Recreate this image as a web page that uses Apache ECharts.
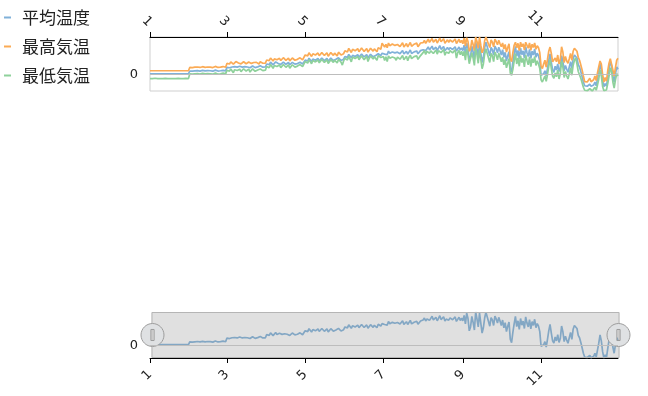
<!DOCTYPE html>
<html><head><meta charset="utf-8">
<script src="https://cdn.jsdelivr.net/npm/echarts@6/dist/echarts.min.js"></script>
<style>html,body{margin:0;padding:0;background:#fff}#c{width:648px;height:396px}</style>
</head><body><div id="c"></div>
<script>
const seriesNames = ['平均温度', '最高気温', '最低気温'];
// day-of-year positions (leap year) of the month ticks and their labels
const tickDays = [0, 60, 121, 182, 244, 305];
const tickLabels = ['1', '3', '5', '7', '9', '11'];
const lastDay = 365;

// daily values, one row per month block (Jan..Dec)
const avgTemp = [
0.5,0.5,0.5,0.5,0.5,0.5,0.5,0.5,0.5,0.5, 0.5,0.5,0.5,0.5,0.5,0.5,0.5,0.5,0.5,0.5, 0.5,0.5,0.5,0.5,0.5,0.5,0.5,0.5,0.5,0.5, 0.5,
2.3,2.6,2.2,2.8,2.4,2.1,2.6,2.9,2.3,2.5, 2.7,2.2,2.4,3.1,2.6,2.3,2.5,2.8,2.2,2.4, 2.9,2.6,2.3,2.7,2.5,2.2,2.8,2.6,2.4,
4.8,5.3,4.5,5.6,5.0,4.4,5.2,5.9,4.9,5.1, 5.5,4.6,4.9,5.8,5.2,4.7,5.0,5.6,4.5,4.8, 5.7,5.3,4.6,5.4,5.1,4.5,5.8,5.3,4.9,5.5, 5.0,
7.0,7.8,6.6,8.2,7.4,6.4,7.6,8.4,7.1,7.3, 7.9,6.7,7.2,8.3,7.6,6.8,7.3,8.0,6.5,7.0, 8.1,7.6,6.9,7.7,7.3,6.6,8.2,7.7,7.0,7.8,
9.6,10.5,9.0,10.9,10.0,8.7,10.3,11.2,9.5,9.8, 10.7,9.1,9.7,11.0,10.3,9.2,9.9,10.8,8.8,9.5, 10.9,10.4,9.3,10.5,10.1,9.0,11.1,10.6,9.4,8.4, 10.2,
12.0,13.0,11.4,13.4,12.5,11.1,12.8,13.7,12.0,12.3, 13.2,11.5,12.2,13.6,12.9,11.7,12.4,13.3,11.2,12.0, 13.5,13.0,11.8,13.1,12.7,11.5,13.8,13.4,12.6,14.2,
15.2,13.6,14.8,13.2,15.6,14.1,13.4,15.0,16.2,14.4, 13.5,14.9,15.8,13.9,14.6,16.0,13.7,14.3,15.4,13.6, 14.8,16.3,14.0,13.5,15.1,14.6,15.7,13.8,14.5,15.9, 14.7,
16.5,17.8,15.9,17.2,18.4,16.3,17.5,18.9,16.6,17.0, 18.2,16.0,17.6,19.3,16.8,17.3,18.6,15.8,17.1,18.0, 16.4,17.9,19.0,16.7,17.4,18.5,15.6,16.9,18.3,16.2, 17.7,
16.0,19.5,14.0,21.0,17.5,9.5,12.0,18.8,15.0,10.0, 21.7,17.2,12.0,21.0,14.5,8.0,11.5,17.8,21.5,20.8, 15.5,12.5,18.0,16.5,13.0,19.0,17.2,14.5,18.2,15.8,
13.0,16.5,11.5,14.8,9.0,12.5,15.2,4.0,1.8,8.5, 14.0,18.8,12.2,16.0,10.5,17.5,13.2,15.8,11.0,18.5, 14.5,12.0,16.8,10.8,15.5,13.0,17.0,11.5,14.2,12.5, 9.0,
-0.5,-1.7,0.5,2.5,-1.0,4.0,9.5,13.7,8.0,3.0, 1.5,5.5,3.0,7.0,2.0,4.5,12.6,9.0,2.5,6.0, 3.5,1.5,5.0,8.5,4.0,10.5,13.0,13.7,11.0,6.5,
5.0,2.0,-1.5,-5.0,-7.5,-8.1,-7.8,-8.0,-6.5,-7.9, -8.1,-7.0,-5.0,-7.5,-3.0,1.5,6.9,3.0,-4.0,-8.1, -6.0,-7.8,-2.0,3.5,8.5,6.0,-1.0,-5.0,0.5,5.0, 3.5
];
const maxTemp = [
2.5,2.5,2.5,2.5,2.5,2.5,2.5,2.5,2.5,2.5, 2.5,2.5,2.5,2.5,2.5,2.5,2.5,2.5,2.5,2.5, 2.5,2.5,2.5,2.5,2.5,2.5,2.5,2.5,2.5,2.5, 2.5,
4.7,5.1,4.6,5.3,4.9,4.5,5.0,5.4,4.7,4.9, 5.2,4.6,4.8,5.6,5.0,4.7,4.9,5.3,4.6,4.8, 5.4,5.0,4.7,5.2,4.9,4.6,5.3,5.0,4.8,
7.4,8.0,7.0,8.4,7.6,6.9,7.8,8.6,7.5,7.7, 8.2,7.1,7.5,8.5,7.9,7.2,7.6,8.3,7.0,7.4, 8.4,8.0,7.1,8.1,7.7,7.0,8.5,8.0,7.5,8.2, 7.6,
9.7,10.6,9.2,11.0,10.1,9.0,10.4,11.3,9.8,10.0, 10.8,9.3,9.9,11.2,10.4,9.4,10.0,10.9,9.1,9.7, 11.0,10.5,9.5,10.6,10.1,9.2,11.1,10.6,9.7,10.7,
13.0,14.0,12.4,14.5,13.5,12.0,13.8,14.8,13.0,13.3, 14.3,12.5,13.2,14.6,13.9,12.7,13.4,14.4,12.2,13.0, 14.6,14.1,12.8,14.2,13.7,12.4,14.9,14.3,13.0,12.2, 13.9,
15.8,17.0,15.0,17.4,16.4,14.7,16.8,17.7,15.8,16.2, 17.2,15.2,16.0,17.6,16.9,15.4,16.3,17.3,14.9,15.8, 17.5,17.0,15.6,17.1,16.6,15.2,17.9,17.4,16.8,20.8,
20.8,18.3,20.1,17.9,21.0,19.2,18.0,20.3,21.3,19.4, 18.1,20.0,20.9,18.6,19.5,21.1,18.3,19.2,20.6,18.4, 19.9,21.4,18.8,18.2,20.2,19.6,20.9,18.5,19.4,21.0, 19.7,
21.3,22.8,20.8,22.2,23.6,21.4,22.5,24.0,21.6,22.0, 23.4,21.0,22.6,24.3,21.8,22.3,23.8,20.9,22.1,23.1, 21.5,23.0,24.2,21.7,22.4,23.7,20.6,21.9,23.5,21.2, 22.8,
20.5,24.2,19.0,24.5,22.0,15.5,17.0,23.0,20.0,16.0, 25.0,22.0,17.5,25.0,19.5,14.5,16.5,22.5,25.0,24.8, 20.2,18.0,23.0,21.5,18.5,23.5,22.0,19.8,22.8,20.5,
18.5,21.0,17.0,20.0,15.0,18.0,20.5,10.5,8.5,14.5, 19.5,21.5,17.8,20.8,16.0,21.5,18.5,20.5,16.5,21.5, 19.5,17.5,21.0,16.2,20.2,18.0,21.0,16.8,19.2,17.8, 14.5,
5.5,4.0,7.0,9.5,5.0,10.0,15.5,18.3,14.0,8.5, 7.5,11.0,8.5,13.0,7.0,10.0,18.5,15.0,8.0,12.0, 9.0,7.5,10.5,14.0,9.5,15.5,17.5,18.0,15.5,11.5,
9.5,6.3,3.0,-1.0,-4.8,-5.5,-5.0,-4.5,-2.5,-4.8, -5.5,-3.5,-1.0,-4.0,1.0,5.2,9.0,7.0,0.0,-5.0, -2.0,-4.5,2.5,7.5,10.5,9.5,3.0,-1.0,4.5,9.5, 10.8
];
const minTemp = [
-2.7,-2.6,-2.8,-2.7,-2.5,-2.7,-2.8,-2.6,-2.7,-2.4, -2.7,-2.7,-2.6,-2.8,-2.7,-2.5,-2.7,-2.6,-2.7,-2.8, -2.7,-2.4,-2.6,-2.7,-2.7,-2.5,-2.7,-2.8,-2.6,-2.7, -2.7,
0.4,0.8,0.2,0.9,0.5,-0.6,0.6,1.0,0.3,0.5, 0.8,0.1,0.4,1.1,0.6,-0.3,0.5,0.9,0.2,0.4, 1.0,0.6,0.2,0.8,0.5,0.1,0.9,0.6,0.4,
2.8,3.4,2.2,3.7,3.0,1.2,3.2,3.9,2.7,2.9, 3.5,1.9,2.6,3.8,3.2,2.3,2.9,3.6,1.6,2.5, 3.8,3.3,2.1,3.4,3.0,2.0,3.7,3.3,2.6,3.4, 2.9,
5.4,6.2,4.5,6.6,5.7,4.1,6.0,6.8,5.3,5.5, 6.3,4.6,5.4,6.7,5.9,4.8,5.6,6.4,4.2,5.2, 6.5,6.0,4.9,6.1,5.6,4.4,6.6,6.1,5.2,6.2,
8.6,9.5,7.6,9.9,9.0,7.2,9.3,10.2,8.4,8.7, 9.7,7.8,8.6,10.0,9.3,8.0,8.8,9.8,7.4,8.5, 9.9,9.4,8.1,9.5,9.1,7.7,10.1,9.6,8.2,6.3, 9.0,
10.8,11.9,9.6,12.2,11.2,8.4,11.6,12.5,10.6,11.0, 12.0,9.8,10.9,12.4,11.7,9.9,11.2,12.2,8.7,10.8, 12.3,11.8,10.3,11.9,11.5,9.5,12.6,12.1,11.3,12.5,
12.0,9.3,11.8,8.6,12.4,10.9,9.7,11.7,12.8,11.0, 9.5,11.6,12.5,10.2,11.3,12.7,9.9,10.9,12.1,9.2, 11.5,12.9,10.6,9.8,11.9,11.2,12.4,10.1,11.1,12.6, 11.4,
14.6,16.0,13.4,15.4,16.5,14.2,15.7,16.9,14.0,15.1, 16.3,13.6,15.8,17.0,14.6,15.3,16.7,12.8,15.0,16.1, 14.1,15.9,16.8,14.4,15.2,16.4,11.0,14.5,16.0,13.2, 15.5,
12.5,15.5,9.5,17.0,13.0,7.2,8.0,14.5,11.0,6.1, 17.5,13.2,7.5,16.8,10.0,3.9,7.0,13.5,17.2,16.5, 11.0,8.0,14.0,12.5,8.6,15.0,13.0,9.8,14.2,11.5,
8.5,11.5,6.5,10.0,4.5,7.5,10.5,1.0,-0.5,3.5, 9.0,14.0,7.0,11.0,5.5,12.5,8.0,10.8,5.0,13.0, 9.5,6.5,11.8,5.2,10.5,7.8,12.0,6.0,9.2,7.0, 4.0,
-3.5,-5.0,-3.0,-1.0,-4.5,0.0,5.5,10.0,4.0,-1.0, -2.5,1.0,-1.5,3.0,-3.0,0.5,9.0,5.0,-2.0,2.0, -1.0,-3.0,0.5,4.5,-0.5,6.0,9.5,11.0,7.0,2.0,
1.0,-2.5,-5.5,-8.5,-10.5,-11.0,-10.8,-11.0,-9.5,-10.8, -11.0,-10.0,-8.5,-10.5,-7.0,-3.0,3.0,-1.0,-8.0,-10.8, -10.0,-10.3,-6.0,-1.0,4.5,2.0,-5.0,-9.0,-3.5,0.5, -1.0
];

const toPairs = arr => arr.map((v, i) => [i, v]);
const colors = ['#80b1d9', '#fbab55', '#8ed19b'];
const txt = '#222';
const handlePath = 'path://M10,0C15.5,0,20,4.5,20,10C20,15.5,15.5,20,10,20C4.5,20,0,15.5,0,10C0,4.5,4.5,0,10,0Z M8.6,5.2V14.8H11.4V5.2Z';

function xAxisCfg(gridIndex, pos) {
  const top = pos === 'top';
  return {
    type: 'value', gridIndex, position: pos, min: 0, max: lastDay,
    axisLine: { show: true, onZero: false, lineStyle: { color: '#000', width: 1 } },
    axisTick: { show: true, length: 5, customValues: tickDays, lineStyle: { color: '#000' } },
    axisLabel: {
      customValues: tickDays, rotate: 45, fontSize: 13, color: txt,
      margin: top ? 12.5 : 14.5,
      fontFamily: 'DejaVu Sans',
      formatter: v => tickLabels[tickDays.indexOf(v)] || ''
    },
    splitLine: { show: false }
  };
}
function yAxisCfg(gridIndex, mn, mx) {
  return {
    type: 'value', gridIndex, min: mn, max: mx,
    axisLine: { show: false }, axisTick: { show: false },
    axisLabel: { customValues: [0], fontSize: 13, color: txt, margin: 12, fontFamily: 'DejaVu Sans' },
    splitLine: { show: false }
  };
}
const zeroLine = {
  silent: true, symbol: 'none', animation: false,
  label: { show: false },
  lineStyle: { color: '#bdbdbd', type: 'solid', width: 1 },
  data: [{ yAxis: 0 }]
};
const lineSeries = (name, xi, data, color, extra) => Object.assign({
  name, type: 'line', xAxisIndex: xi, yAxisIndex: xi, data: toPairs(data),
  showSymbol: false, symbol: 'none',
  lineStyle: { width: 1.7, color }, itemStyle: { color }
}, extra || {});

const chart = echarts.init(document.getElementById('c'), null, { renderer: 'canvas' });
chart.setOption({
  animation: false,
  color: colors,
  legend: {
    orient: 'vertical', left: -1, top: 4, itemGap: 12,
    icon: 'rect', itemWidth: 7, itemHeight: 2,
    data: seriesNames,
    textStyle: { fontSize: 17, color: txt, fontFamily: 'Noto Sans CJK JP', padding: [0, 0, 0, 6] }
  },
  grid: [
    { left: 150, right: 30, top: 37, height: 54, show: true, borderColor: '#cfcfcf', borderWidth: 1, backgroundColor: 'transparent' },
    { left: 150, right: 30, top: 312, height: 46, show: false }
  ],
  xAxis: [xAxisCfg(0, 'top'), xAxisCfg(1, 'bottom')],
  yAxis: [yAxisCfg(0, -11, 25), yAxisCfg(1, -8.1, 21.7)],
  dataZoom: [{
    type: 'slider', xAxisIndex: [0, 1], start: 0, end: 100,
    left: 150, right: 30, top: 312, height: 46,
    backgroundColor: 'rgba(0,0,0,0)', fillerColor: 'rgba(140,140,140,0.27)',
    borderColor: '#b5b5b5', borderRadius: 0,
    showDataShadow: false, showDetail: false, brushSelect: false, moveHandleSize: 0,
    handleIcon: handlePath, handleSize: 23,
    handleStyle: { color: '#dfe1e3', borderColor: '#9c9c9c', borderWidth: 1 },
    emphasis: { handleStyle: { color: '#dfe1e3', borderColor: '#9c9c9c', borderWidth: 1 } },
    dataBackground: { lineStyle: { opacity: 0 }, areaStyle: { opacity: 0 } },
    selectedDataBackground: { lineStyle: { opacity: 0 }, areaStyle: { opacity: 0 } }
  }],
  series: [
    lineSeries(seriesNames[0], 0, avgTemp, colors[0], { markLine: zeroLine }),
    lineSeries(seriesNames[1], 0, maxTemp, colors[1]),
    lineSeries(seriesNames[2], 0, minTemp, colors[2]),
    lineSeries(seriesNames[0], 1, avgTemp, colors[0], { markLine: zeroLine })
  ]
});
</script>
</body></html>
